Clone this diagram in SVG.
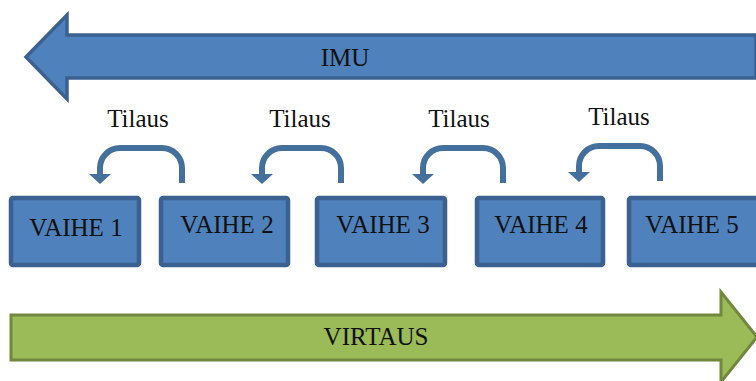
<svg xmlns="http://www.w3.org/2000/svg" width="756" height="381" viewBox="0 0 756 381">
<style>
.blue{fill:#4f81bd;stroke:#3b6190;stroke-width:3.5}
.green{fill:#9bbb59;stroke:#71893f;stroke-width:3}
.box{fill:#4f81bd;stroke:#3b6190;stroke-width:4.5}
.lbl{font-family:'Liberation Serif','DejaVu Serif','Times New Roman',serif;font-size:25px;fill:#111;text-anchor:middle}
.bend{fill:none;stroke:#44709d;stroke-width:6}
.head{fill:#44709d}
</style>
<rect width="756" height="381" fill="#fff"/>
<g id="imu">
<polygon class="blue" points="26,57 67,15 67,35 756,35 756,78 67,78 67,99"/>
<text class="lbl" x="345" y="66">IMU</text>
</g>
<g id="virtaus">
<polygon class="green" points="11,315 721,315 721,292 757,337 721,382 721,360 11,360"/>
<text class="lbl" x="376" y="345">VIRTAUS</text>
</g>
<g id="vaihe1"><rect class="box" x="11" y="198" width="128" height="67" rx="2"/><text class="lbl" x="76" y="236">VAIHE 1</text></g>
<g id="vaihe2"><rect class="box" x="161" y="198" width="127" height="67" rx="2"/><text class="lbl" x="227" y="233">VAIHE 2</text></g>
<g id="vaihe3"><rect class="box" x="317" y="198" width="128" height="67" rx="2"/><text class="lbl" x="383" y="233">VAIHE 3</text></g>
<g id="vaihe4"><rect class="box" x="477" y="198" width="126" height="67" rx="2"/><text class="lbl" x="541" y="233">VAIHE 4</text></g>
<g id="vaihe5"><rect class="box" x="629" y="198" width="130" height="67" rx="2"/><text class="lbl" x="692" y="233">VAIHE 5</text></g>
<g id="connectors">
<path class="bend" d="M182,183 V168 A20,20 0 0 0 162,148 H120 A20,20 0 0 0 100,168 V175"/>
<polygon class="head" points="89,174 111,174 100,184"/>
<path class="bend" d="M341,183 V168 A20,20 0 0 0 321,148 H282 A20,20 0 0 0 262,168 V175"/>
<polygon class="head" points="251,174 273,174 262,184"/>
<path class="bend" d="M503,183 V168 A20,20 0 0 0 483,148 H443 A20,20 0 0 0 423,168 V175"/>
<polygon class="head" points="412,174 434,174 423,184"/>
<path class="bend" d="M660,181 V166 A20,20 0 0 0 640,146 H599 A20,20 0 0 0 579,166 V173"/>
<polygon class="head" points="568,172 590,172 579,182"/>
<text class="lbl" x="138" y="127">Tilaus</text>
<text class="lbl" x="300" y="127">Tilaus</text>
<text class="lbl" x="459" y="127">Tilaus</text>
<text class="lbl" x="619" y="125">Tilaus</text>
</g>
</svg>
